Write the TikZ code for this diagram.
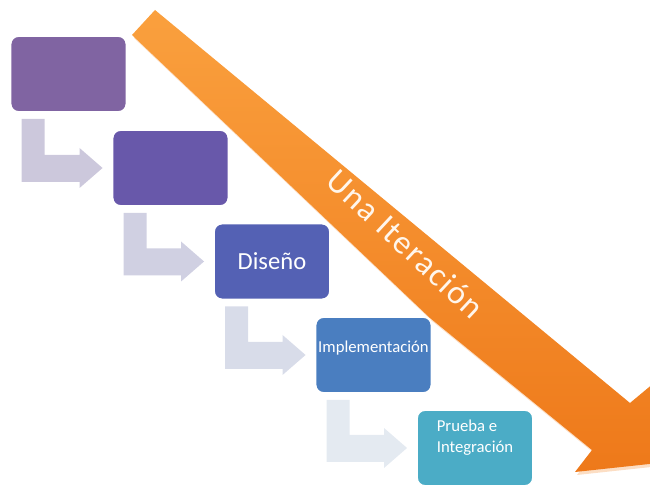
\documentclass[tikz,border=0pt]{standalone}
\usepackage{fontspec}
\setmainfont{Carlito}
\newfontfamily\lemafont[LetterSpace=5]{Carlito}
\usepackage{xcolor}
\usetikzlibrary{calc}

\definecolor{fase1}{RGB}{128,100,162}
\definecolor{fase2}{RGB}{104,88,170}
\definecolor{fase3}{RGB}{84,97,180}
\definecolor{fase4}{RGB}{74,126,192}
\definecolor{fase5}{RGB}{75,172,198}
\definecolor{enlace1}{RGB}{204,200,220}
\definecolor{enlace2}{RGB}{208,208,226}
\definecolor{enlace3}{RGB}{216,220,233}
\definecolor{enlace4}{RGB}{228,234,241}
\definecolor{naranja1}{RGB}{250,160,62}
\definecolor{naranja2}{RGB}{238,121,26}
\definecolor{sombra}{RGB}{252,222,196}
\definecolor{crema}{RGB}{255,246,236}

\tikzset{
  fase/.style={draw=white, line width=1.1pt, rounded corners=4.5pt,
    minimum width=2.32cm, minimum height=1.52cm, inner sep=0pt,
    text=white, align=center},
  chica/.style={font=\fontsize{9.5}{11.5}\selectfont},
}

\begin{document}
\begin{tikzpicture}[x=0.02cm, y=-0.02cm]
		\useasboundingbox (0,0) rectangle (650,489);
		\clip (0,0) rectangle (650,489);
		% flecha grande
		\fill[sombra] (134,38) -- (157,13) -- (632,406) -- (674,371) -- (707,461) -- (577,475) -- (594,453) -- (432,321) -- cycle;
		\shade[top color=naranja1, bottom color=naranja2] (132,35) -- (155,10) -- (630,403) -- (672,368) -- (705,458) -- (575,472) -- (592,450) -- (430,318) -- cycle;
		\node[text=crema, rotate=-43, font=\lemafont\fontsize{19}{21}\selectfont] (iter) at (406,244) {Una Iteración};
		% fases
		\node[fase, fill=fase1] (paso1) at (68.5,74) {};
		\node[fase, fill=fase2] (paso2) at (170.5,168) {};
		\node[fase, fill=fase3, font=\fontsize{14}{16}\selectfont] (paso3) at (272,261.5) {Diseño};
		\node[fase, fill=fase4, chica, text depth=0.33cm] (paso4) at (373.5,355) {Implementación};
		\node[fase, fill=fase5, chica, align=left, text depth=0.47cm] (paso5) at (475,448) {Prueba e\\Integración};
		% enlaces
		\fill[enlace1] ($(paso1.south west)+(12,6)$) -- ++(23,0) |- ($(paso2.west)+(-32,-13)$) -- ++(0,-7) -- ($(paso2.west)+(-9,0)$) -- ++(-23,20) -- ++(0,-6) -| ($(paso1.south west)+(12,6)$) -- cycle;
		\fill[enlace2] ($(paso2.south west)+(12,6)$) -- ++(23,0) |- ($(paso3.west)+(-32,-13)$) -- ++(0,-7) -- ($(paso3.west)+(-9,0)$) -- ++(-23,20) -- ++(0,-6) -| ($(paso2.south west)+(12,6)$) -- cycle;
		\fill[enlace3] ($(paso3.south west)+(12,6)$) -- ++(23,0) |- ($(paso4.west)+(-32,-13)$) -- ++(0,-7) -- ($(paso4.west)+(-9,0)$) -- ++(-23,20) -- ++(0,-6) -| ($(paso3.south west)+(12,6)$) -- cycle;
		\fill[enlace4] ($(paso4.south west)+(12,6)$) -- ++(23,0) |- ($(paso5.west)+(-32,-13)$) -- ++(0,-7) -- ($(paso5.west)+(-9,0)$) -- ++(-23,20) -- ++(0,-6) -| ($(paso4.south west)+(12,6)$) -- cycle;
\end{tikzpicture}
\end{document}
